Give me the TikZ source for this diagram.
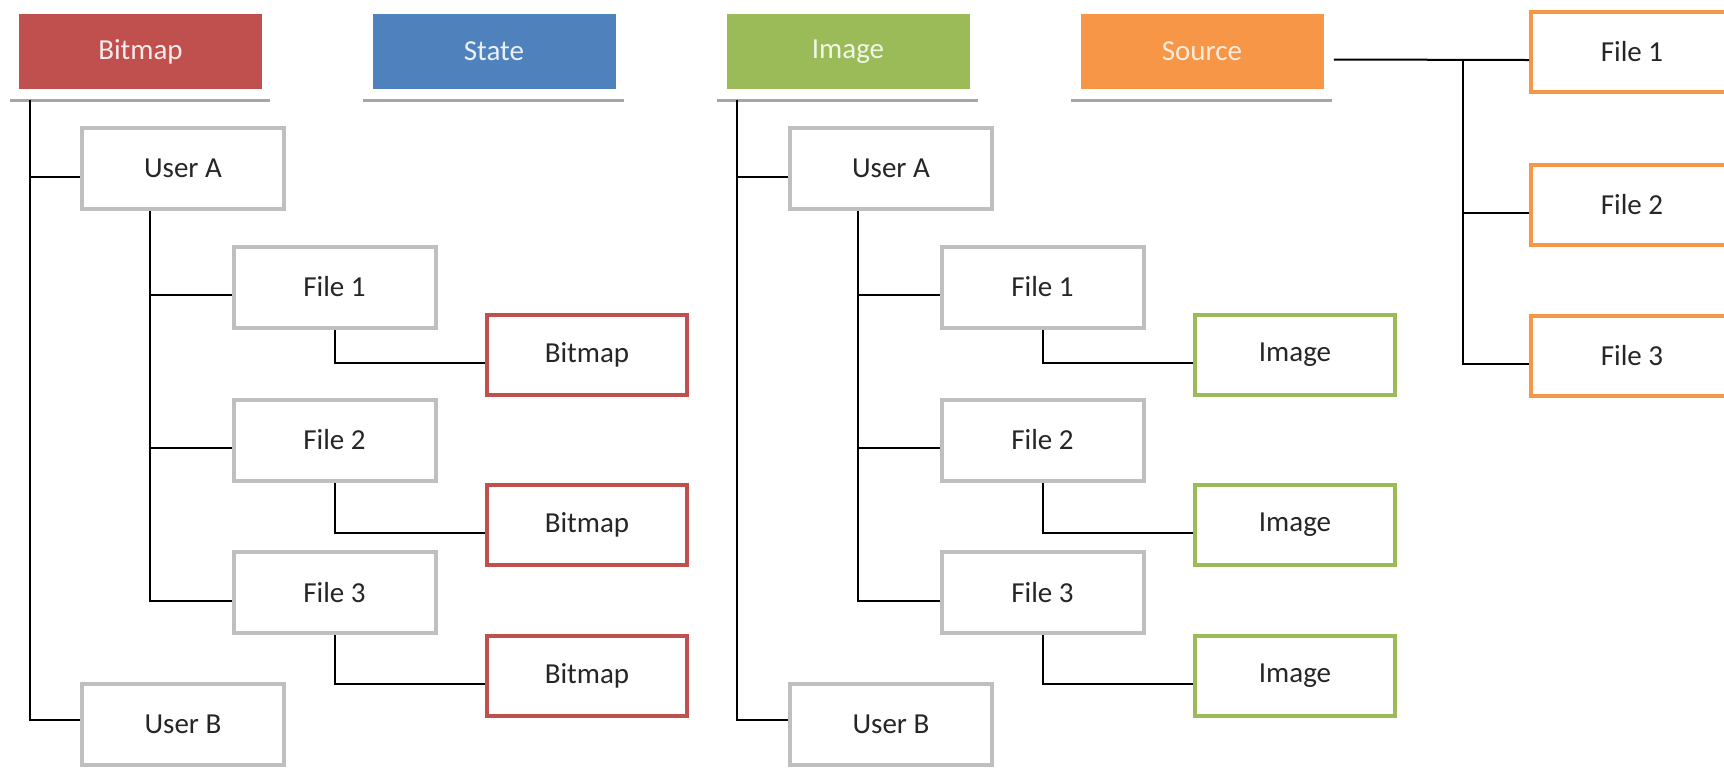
\documentclass[tikz,border=0pt]{standalone}
\usepackage{fontspec}
\setmainfont{Carlito}
\usepackage{tikz}

\definecolor{bmred}{HTML}{C0504D}
\definecolor{stblue}{HTML}{4F81BD}
\definecolor{imgreen}{HTML}{9BBB59}
\definecolor{srcorange}{HTML}{F79646}
\definecolor{itemgray}{HTML}{BFBFBF}
\definecolor{shadegray}{HTML}{A6A6A6}

\begin{document}
\begin{tikzpicture}[
    x=0.5pt, y=-0.5pt,
    header/.style={rectangle, minimum width=121.5pt, minimum height=37.5pt, inner sep=0pt, font=\fontsize{14.5}{17}\selectfont},
    item/.style={rectangle, draw=itemgray, line width=2pt, fill=white, minimum width=101pt, minimum height=40.5pt, inner sep=0pt, text=black!85, font=\fontsize{14.5}{17}\selectfont},
    bmitem/.style={item, draw=bmred, minimum width=100pt, minimum height=40pt},
    imitem/.style={item, draw=imgreen, minimum width=100pt, minimum height=40pt},
    srcitem/.style={item, draw=srcorange, minimum width=101pt, minimum height=40pt},
    link/.style={draw=black, line width=1pt},
    shade/.style={draw=shadegray, line width=1.5pt}
]
\useasboundingbox (0,0) rectangle (1724,768);
\clip (0,0) rectangle (1724,768);

\node[header, fill=bmred, text=bmred!12!white] (bmhead) at (140.5,51.5) {Bitmap};
\node[header, fill=stblue, text=stblue!12!white] (sthead) at (494,51.5) {State};
\node[header, fill=imgreen, text=imgreen!15!white] (imhead) at (848,51.5) {Image};
\node[header, fill=srcorange, text=srcorange!18!white] (srchead) at (1202,51.5) {Source};

\draw[shade] ([xshift=-4.5pt, yshift=-5.5pt]bmhead.south west) -- ([xshift=4pt, yshift=-5.5pt]bmhead.south east);
\draw[shade] ([xshift=-4.5pt, yshift=-5.5pt]sthead.south west) -- ([xshift=4pt, yshift=-5.5pt]sthead.south east);
\draw[shade] ([xshift=-4.5pt, yshift=-5.5pt]imhead.south west) -- ([xshift=4pt, yshift=-5.5pt]imhead.south east);
\draw[shade] ([xshift=-4.5pt, yshift=-5.5pt]srchead.south west) -- ([xshift=4pt, yshift=-5.5pt]srchead.south east);

\node[item] (bmusera) at (183,168.5) {User A};
\node[item] (bmfile1) at (334.5,287) {File 1};
\node[item] (bmfile2) at (334.5,440) {File 2};
\node[item] (bmfile3) at (334.5,592.5) {File 3};
\node[bmitem] (bmmap1) at (587,355) {Bitmap};
\node[bmitem] (bmmap2) at (587,524.5) {Bitmap};
\node[bmitem] (bmmap3) at (587,676) {Bitmap};
\node[item] (bmuserb) at (183,724) {User B};

\node[item] (imusera) at (891,168.5) {User A};
\node[item] (imfile1) at (1042.5,287) {File 1};
\node[item] (imfile2) at (1042.5,440) {File 2};
\node[item] (imfile3) at (1042.5,592.5) {File 3};
\node[imitem] (imimg1) at (1295,355) {Image};
\node[imitem] (imimg2) at (1295,524.5) {Image};
\node[imitem] (imimg3) at (1295,676) {Image};
\node[item] (imuserb) at (891,724) {User B};

\node[srcitem] (srcfile1) at (1632,52) {File 1};
\node[srcitem] (srcfile2) at (1632,204.5) {File 2};
\node[srcitem] (srcfile3) at (1632,355.5) {File 3};

\coordinate (bmtrunk) at ([xshift=5.5pt, yshift=-5.5pt]bmhead.south west);
\coordinate (bmbranch) at ([xshift=-16.5pt]bmusera.south);
\coordinate (imtrunk) at ([xshift=5.5pt, yshift=-5.5pt]imhead.south west);
\coordinate (imbranch) at ([xshift=-16.5pt]imusera.south);
\coordinate (srcsplit) at (1463,59.5);

\draw[link] (bmtrunk) |- ([yshift=-4pt]bmusera.west);
\draw[link] (bmtrunk) |- ([yshift=2pt]bmuserb.west);
\draw[link] (bmbranch) |- ([yshift=-4pt]bmfile1.west);
\draw[link] (bmbranch) |- ([yshift=-4pt]bmfile2.west);
\draw[link] (bmbranch) |- ([yshift=-4pt]bmfile3.west);
\draw[link] (bmfile1.south) |- ([yshift=-4pt]bmmap1.west);
\draw[link] (bmfile2.south) |- ([yshift=-4pt]bmmap2.west);
\draw[link] (bmfile3.south) |- ([yshift=-4pt]bmmap3.west);

\draw[link] (imtrunk) |- ([yshift=-4pt]imusera.west);
\draw[link] (imtrunk) |- ([yshift=2pt]imuserb.west);
\draw[link] (imbranch) |- ([yshift=-4pt]imfile1.west);
\draw[link] (imbranch) |- ([yshift=-4pt]imfile2.west);
\draw[link] (imbranch) |- ([yshift=-4pt]imfile3.west);
\draw[link] (imfile1.south) |- ([yshift=-4pt]imimg1.west);
\draw[link] (imfile2.south) |- ([yshift=-4pt]imimg2.west);
\draw[link] (imfile3.south) |- ([yshift=-4pt]imimg3.west);

\draw[link] ([xshift=5pt, yshift=-4pt]srchead.east) -- ([yshift=-4pt]srcfile1.west);
\draw[link] (srcsplit) |- ([yshift=-4pt]srcfile2.west);
\draw[link] (srcsplit) |- ([yshift=-4pt]srcfile3.west);

\end{tikzpicture}
\end{document}
